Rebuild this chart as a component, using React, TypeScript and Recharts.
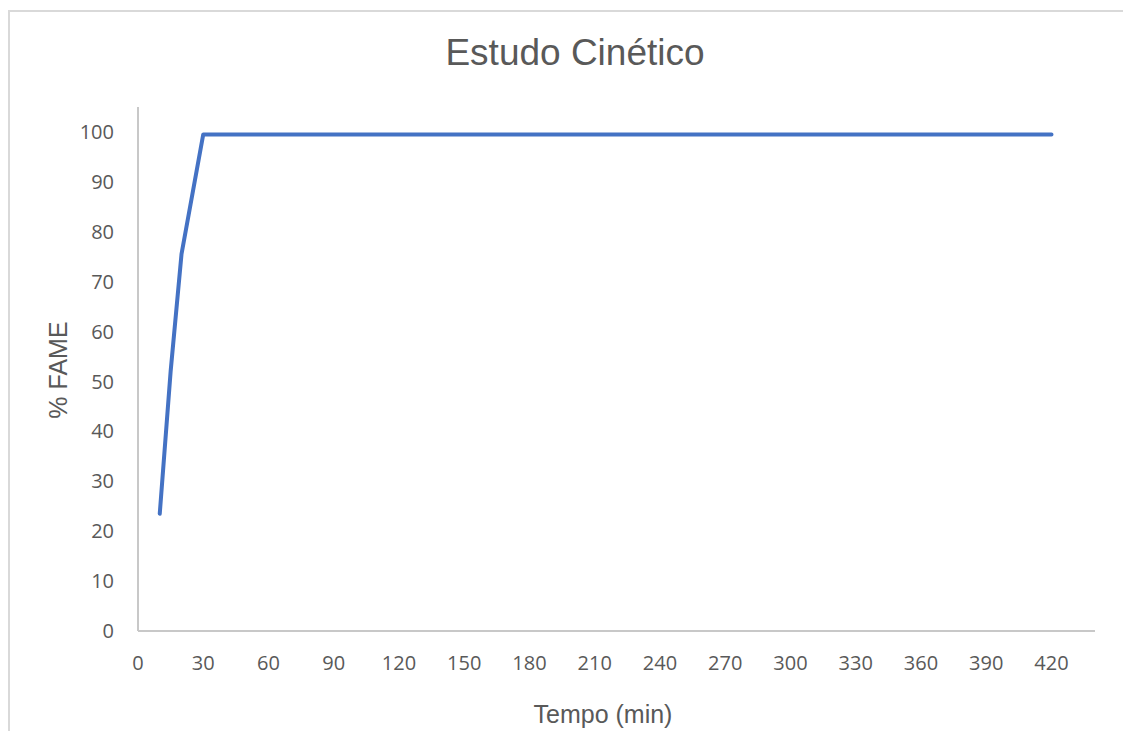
import React from "react";
import { LineChart, Line, XAxis, YAxis, Label } from "recharts";

// Reaction time (min) and FAME conversion (%)
const tempo = [10, 15, 20, 30, 60, 120, 180, 240, 300, 360, 420];
const fame = [23.5, 52, 75.5, 99.5, 99.5, 99.5, 99.5, 99.5, 99.5, 99.5, 99.5];

const xTicks = [0, 30, 60, 90, 120, 150, 180, 210, 240, 270, 300, 330, 360, 390, 420];
const yTicks = [0, 10, 20, 30, 40, 50, 60, 70, 80, 90, 100];

const data = tempo.map((t, i) => ({ tempo: t, fame: fame[i] }));

const AXIS_COLOR = "#c8c8c8";
const TEXT_COLOR = "#595959";
const TICK_FONT = "'Open Sans', sans-serif";
const TITLE_FONT = "'Liberation Sans', Arial, sans-serif";

export default function App() {
  return (
    <div style={{ position: "relative", width: 1115, height: 723 }}>
      <style>{"html,body{overflow:hidden;}"}</style>
      {/* chart area frame: top and left edges */}
      <div
        style={{
          position: "absolute",
          left: 0,
          top: 2,
          width: 1123,
          height: 2,
          background: "#d9d9d9",
        }}
      />
      <div
        style={{
          position: "absolute",
          left: 0,
          top: 2,
          width: 2,
          height: 729,
          background: "#d9d9d9",
        }}
      />
      <div
        style={{
          position: "absolute",
          left: 0,
          width: 1134,
          top: 24,
          textAlign: "center",
          fontFamily: TITLE_FONT,
          fontSize: 37,
          color: TEXT_COLOR,
          lineHeight: "42px",
        }}
      >
        Estudo Cinético
      </div>
      <LineChart
        width={1115}
        height={723}
        data={data}
        margin={{ top: 99, right: 28, bottom: 40, left: 70 }}
        style={{ position: "absolute", left: 0, top: 0 }}
      >
        <XAxis
          dataKey="tempo"
          type="number"
          domain={[0, 440]}
          ticks={xTicks}
          interval={0}
          height={60}
          tickSize={0}
          tickMargin={25}
          axisLine={{ stroke: AXIS_COLOR, strokeWidth: 2 }}
          tickLine={false}
          tick={{ fill: TEXT_COLOR, fontSize: 20, fontFamily: TICK_FONT }}
        >
          <Label
            content={() => (
              <text
                x={595}
                y={706}
                textAnchor="middle"
                dominantBaseline="central"
                fill={TEXT_COLOR}
                fontSize={25}
                fontFamily={TITLE_FONT}
              >
                Tempo (min)
              </text>
            )}
          />
        </XAxis>
        <YAxis
          type="number"
          domain={[0, 105]}
          ticks={yTicks}
          interval={0}
          width={60}
          tickSize={0}
          tickMargin={24}
          axisLine={{ stroke: AXIS_COLOR, strokeWidth: 2 }}
          tickLine={false}
          tick={{ fill: TEXT_COLOR, fontSize: 20, fontFamily: TICK_FONT }}
        >
          <Label
            content={() => (
              <text
                x={50}
                y={362}
                transform="rotate(-90 50 362)"
                textAnchor="middle"
                dominantBaseline="central"
                fill={TEXT_COLOR}
                fontSize={25}
                fontFamily={TITLE_FONT}
              >
                % FAME
              </text>
            )}
          />
        </YAxis>
        <Line
          dataKey="fame"
          type="linear"
          stroke="#4472C4"
          strokeWidth={4}
          strokeLinejoin="round"
          strokeLinecap="round"
          dot={false}
          isAnimationActive={false}
        />
      </LineChart>
    </div>
  );
}
